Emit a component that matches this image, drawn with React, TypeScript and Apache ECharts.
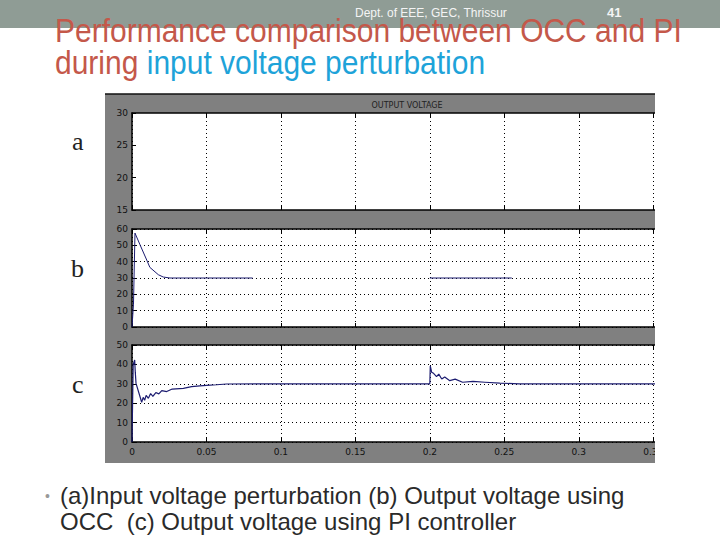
import React, { useEffect, useRef } from "react";
import * as echarts from "echarts";

// ---- data ----
const X_MAX = 0.37;
const X_INTERVAL = 0.05;
const xTickLabels = ["0", "0.05", "0.1", "0.15", "0.2", "0.25", "0.3", "0.35"];

const yA = { min: 15, max: 30, interval: 5 };
const yB = { min: 0, max: 60, interval: 10 };
const yC = { min: 0, max: 50, interval: 10 };

// (b) output voltage using OCC
const occTime = [0, 0.001, 0.002, 0.0054, 0.0099, 0.012, 0.0177, 0.021, 0.0255, 0.081, 0.12, 0.2, 0.255];
const occVolt: (number | string)[] = [0, 14, 57.5, 50.3, 41, 36.5, 32, 30.6, 30, 30, "-", 30, 30];

// (c) output voltage using PI controller
const piTime = [
  0, 0.0008, 0.0018, 0.0022, 0.0027, 0.0065, 0.0075, 0.0085, 0.0095, 0.011, 0.0125, 0.014, 0.016,
  0.018, 0.02, 0.0233, 0.027, 0.0345, 0.04, 0.0456, 0.05, 0.0568, 0.0635, 0.2, 0.2003, 0.2012,
  0.2025, 0.2045, 0.206, 0.208, 0.21, 0.2134, 0.217, 0.222, 0.229, 0.237, 0.247, 0.26, 0.37,
];
const piVolt = [
  0, 40, 42.3, 36, 30.2, 20.5, 23, 21.5, 24, 22.5, 25, 23.5, 25.5, 24.8, 26.5, 26, 27.3, 27.6,
  28.5, 28.9, 29.2, 29.5, 29.9, 30, 39.2, 36, 35.4, 33.7, 35, 32.5, 33.5, 31.6, 32.4, 30.8, 31.2,
  30.8, 30.3, 30, 30,
];

const zip = (t: number[], v: (number | string)[]) => t.map((x, i) => [x, v[i]]);

const NAVY = "#1c1c70";
const LINE_COLOR = "#000";

function xLabel(v: number) {
  const k = Math.round(v / X_INTERVAL);
  if (Math.abs(k * X_INTERVAL - v) > 1e-6) return "";
  return xTickLabels[k] ?? "";
}

export default function App() {
  const ref = useRef<HTMLDivElement>(null);
  useEffect(() => {
    if (!ref.current) return;
    const chart = echarts.init(ref.current, undefined, { renderer: "svg" });

    const grids = [
      { left: 132, top: 113, width: 551, height: 97 },
      { left: 132, top: 229, width: 551, height: 98 },
      { left: 132, top: 345, width: 551, height: 97 },
    ].map((g) => ({ ...g, show: true, backgroundColor: "#ffffff", borderWidth: 0 }));

    const dotted = { show: true, lineStyle: { color: "#000", width: 1, type: [1, 3] as any } };

    const xAxes: any[] = [];
    [0, 1, 2].forEach((gi) => {
      xAxes.push({
        type: "value",
        gridIndex: gi,
        position: "bottom",
        min: 0,
        max: X_MAX,
        interval: X_INTERVAL,
        axisLine: { show: true, onZero: false, lineStyle: { color: LINE_COLOR, width: 1.5 } },
        axisTick: { show: true, inside: true, length: 4, lineStyle: { color: LINE_COLOR } },
        axisLabel: {
          show: gi === 2,
          formatter: xLabel,
          fontSize: 9,
          color: "#111",
          margin: 5,
          fontFamily: "DejaVu Sans",
        },
        splitLine: dotted,
      });
      xAxes.push({
        type: "value",
        gridIndex: gi,
        position: "top",
        min: 0,
        max: X_MAX,
        interval: X_INTERVAL,
        axisLine: { show: true, onZero: false, lineStyle: { color: LINE_COLOR, width: 1.5 } },
        axisTick: { show: true, inside: true, length: 4, lineStyle: { color: LINE_COLOR } },
        axisLabel: { show: false },
        splitLine: { show: false },
      });
    });

    const yAxes = [yA, yB, yC].map((y, gi) => ({
      type: "value",
      gridIndex: gi,
      min: y.min,
      max: y.max,
      interval: y.interval,
      axisLine: { show: true, onZero: false, lineStyle: { color: LINE_COLOR, width: 1.5 } },
      axisTick: { show: true, inside: true, length: 4, lineStyle: { color: LINE_COLOR } },
      axisLabel: { fontSize: 9, color: "#111", margin: 4, fontFamily: "DejaVu Sans" },
      splitLine: gi === 0 ? { show: false } : dotted,
    }));

    const graphic: any[] = [
      // slide header band
      { type: "rect", shape: { x: 0, y: 0, width: 720, height: 28 }, style: { fill: "#8f9c95" }, z: -100 },
      // scope image background
      { type: "rect", shape: { x: 105, y: 94, width: 550, height: 369 }, style: { fill: "#808080" }, z: -100 },
      { type: "line", shape: { x1: 105, y1: 94, x2: 655, y2: 94 }, style: { stroke: "#111", lineWidth: 1.5 }, z: 50 },
      // clip the right side of the scope image
      { type: "rect", shape: { x: 655, y: 88, width: 65, height: 380 }, style: { fill: "#ffffff" }, z: 100 },
      {
        type: "text",
        x: 407,
        y: 105,
        style: { text: "OUTPUT VOLTAGE", fill: "#222", font: "8px DejaVu Sans", textAlign: "center", textVerticalAlign: "middle" },
        z: 50,
      },
      {
        type: "text",
        x: 355,
        y: 19,
        style: { text: "Dept. of EEE, GEC, Thrissur", fill: "#f4f4f4", font: "12px Liberation Sans", textVerticalAlign: "bottom" },
        z: 60,
      },
      {
        type: "text",
        x: 607,
        y: 19,
        style: { text: "41", fill: "#f4f4f4", font: "bold 13px Liberation Sans", textVerticalAlign: "bottom" },
        z: 60,
      },
      {
        type: "text",
        x: 55,
        y: 47,
        scaleY: 1.12,
        style: {
          text: "Performance comparison between OCC and PI",
          fill: "#c4584a",
          font: "30px Liberation Sans",
          textVerticalAlign: "bottom",
        },
        z: 55,
      },
      {
        type: "text",
        x: 55,
        y: 79,
        scaleY: 1.1,
        style: {
          rich: {
            r: { fill: "#c4584a", font: "30px Liberation Sans" },
            b: { fill: "#1ea3d9", font: "30px Liberation Sans" },
          },
          text: "{r|during }{b|input voltage perturbation}",
          textVerticalAlign: "bottom",
        },
        z: 55,
      },
      { type: "text", x: 72, y: 141, style: { text: "a", fill: "#222", font: "26px Liberation Serif", textVerticalAlign: "middle" } },
      { type: "text", x: 71, y: 268, style: { text: "b", fill: "#222", font: "26px Liberation Serif", textVerticalAlign: "middle" } },
      { type: "text", x: 72, y: 384, style: { text: "c", fill: "#222", font: "26px Liberation Serif", textVerticalAlign: "middle" } },
      { type: "text", x: 45, y: 496, style: { text: "•", fill: "#999", font: "14px Liberation Sans", textVerticalAlign: "middle" } },
      {
        type: "text",
        x: 60,
        y: 507,
        style: {
          text: "(a)Input voltage perturbation (b) Output voltage using",
          fill: "#2a2a2a",
          font: "24px Liberation Sans",
          textVerticalAlign: "bottom",
        },
      },
      {
        type: "text",
        x: 60,
        y: 533,
        style: {
          text: "OCC  (c) Output voltage using PI controller",
          fill: "#2a2a2a",
          font: "24px Liberation Sans",
          textVerticalAlign: "bottom",
        },
      },
    ];

    chart.setOption({
      animation: false,
      backgroundColor: "#ffffff",
      grid: grids,
      xAxis: xAxes,
      yAxis: yAxes,
      graphic,
      series: [
        {
          type: "line",
          xAxisIndex: 2,
          yAxisIndex: 1,
          data: zip(occTime, occVolt),
          showSymbol: false,
          connectNulls: false,
          lineStyle: { color: NAVY, width: 1 },
          z: 10,
        },
        {
          type: "line",
          xAxisIndex: 4,
          yAxisIndex: 2,
          data: zip(piTime, piVolt),
          showSymbol: false,
          lineStyle: { color: NAVY, width: 1.2 },
          z: 10,
        },
      ],
    });
    return () => chart.dispose();
  }, []);

  return (
    <div
      ref={ref}
      style={{ position: "absolute", left: 0, top: 0, width: 720, height: 540 }}
    />
  );
}
